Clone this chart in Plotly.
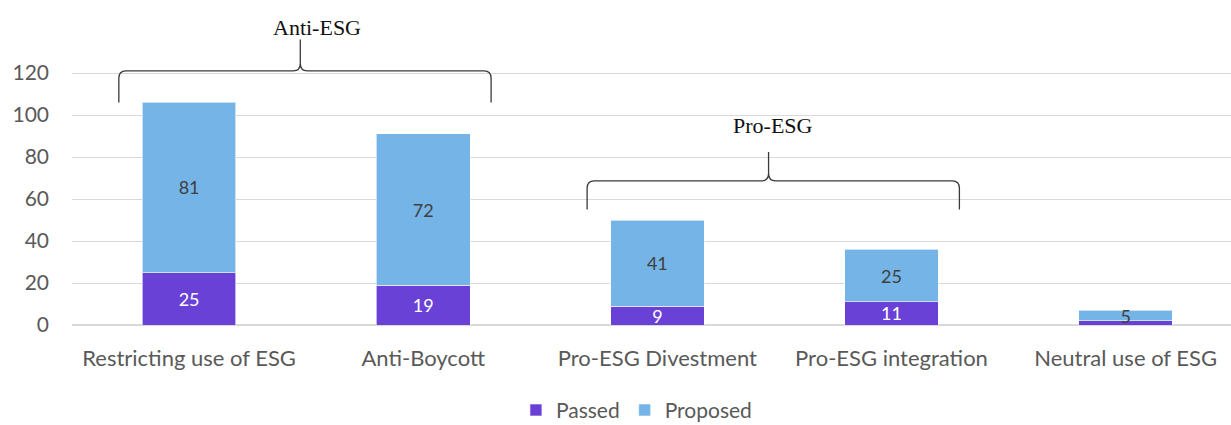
import plotly.graph_objects as go

categories = ["Restricting use of ESG", "Anti-Boycott", "Pro-ESG Divestment",
              "Pro-ESG integration", "Neutral use of ESG"]
passed = [25, 19, 9, 11, 2]
proposed = [81, 72, 41, 25, 5]
passed_labels = ["25", "19", "9", "11", ""]
proposed_labels = ["81", "72", "41", "25", "5"]
y_ticks = [0, 20, 40, 60, 80, 100, 120]

# name, first idx, last idx, brace end y, brace bar y, tip y, label x offset, label paper y
groups = [("Anti-ESG", 0, 1, 106, 121, 136, 0.07, 1.0136),
          ("Pro-ESG", 2, 3, 55, 68.6, 82.4, 0.02, 0.68)]

FONT = "Lato"
PURPLE = "#6A41D6"
BLUE = "#74B4E7"

fig = go.Figure()
fig.add_trace(go.Bar(
    name="Passed", x=list(range(len(categories))), y=passed, marker_color=PURPLE,
    marker_line=dict(color="rgba(255,255,255,0.6)", width=1),
    text=passed_labels, textposition="inside", insidetextanchor="middle", textangle=0,
    constraintext="none", textfont=dict(color="white", size=18, family=FONT),
    width=0.4, hoverinfo="skip"))
fig.add_trace(go.Bar(
    name="Proposed", x=list(range(len(categories))), y=proposed, marker_color=BLUE,
    marker_line=dict(color="rgba(255,255,255,0.6)", width=1),
    text=proposed_labels, textposition="inside", insidetextanchor="middle", textangle=0,
    constraintext="none", textfont=dict(color="#404040", size=18, family=FONT),
    width=0.4, hoverinfo="skip"))

shapes = []
annotations = []
for name, i0, i1, y_end, y_bar, y_tip, lx, ly in groups:
    xl = i0 - 0.3
    xr = i1 + 0.29
    xm = (xl + xr) / 2 - 0.02
    r = 0.03
    dy = 3.5
    path = (f"M {xl},{y_end} L {xl},{y_bar - dy} Q {xl},{y_bar} {xl + r},{y_bar} "
            f"L {xm - r},{y_bar} Q {xm},{y_bar} {xm},{y_bar + dy} L {xm},{y_tip} "
            f"M {xm},{y_bar + dy} Q {xm},{y_bar} {xm + r},{y_bar} "
            f"L {xr - r},{y_bar} Q {xr},{y_bar} {xr},{y_bar - dy} L {xr},{y_end}")
    shapes.append(dict(type="path", path=path, xref="x", yref="y",
                       line=dict(color="#3a3a3a", width=1.3)))
    annotations.append(dict(x=xm + lx, y=ly, xref="x", yref="paper", text=name,
                            showarrow=False, yanchor="middle",
                            font=dict(family="Liberation Serif", size=22, color="#111111")))

fig.update_layout(
    barmode="stack",
    width=1231, height=425,
    margin=dict(l=72, r=0, t=31, b=100, autoexpand=False),
    plot_bgcolor="white", paper_bgcolor="white",
    font=dict(family=FONT, size=21, color="#595959"),
    xaxis=dict(range=[-0.5, 4.45], tickvals=list(range(len(categories))),
               ticktext=categories, showgrid=False, zeroline=False,
               showline=False, ticks="", ticklabelstandoff=18,
               tickfont=dict(size=22, color="#595959")),
    yaxis=dict(range=[0, 140], tickvals=y_ticks, showgrid=True, gridcolor="#D9D9D9",
               gridwidth=1.3, zeroline=True, zerolinecolor="#D9D9D9", zerolinewidth=1.5,
               ticks="", ticklabelstandoff=22, tickfont=dict(size=21, color="#595959")),
    legend=dict(orientation="h", x=0.487, xanchor="center", y=-0.36, yanchor="bottom",
                font=dict(size=21, color="#595959"), traceorder="normal",
                tracegroupgap=0, itemwidth=30),
    shapes=shapes, annotations=annotations,
    showlegend=True,
)

fig.write_html("out.html")
